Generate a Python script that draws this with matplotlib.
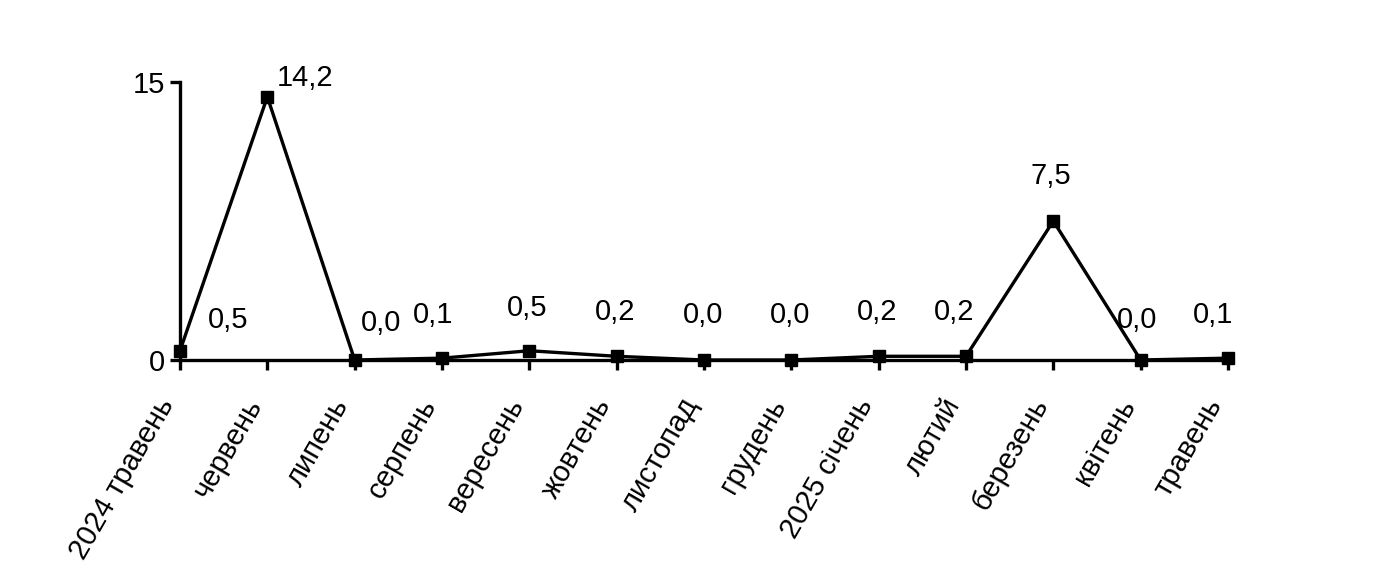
import matplotlib.pyplot as plt

# === data ===
months = ["2024 травень", "червень", "липень", "серпень", "вересень", "жовтень",
          "листопад", "грудень", "2025 січень", "лютий", "березень", "квітень", "травень"]
values = [0.5, 14.2, 0.0, 0.1, 0.5, 0.2, 0.0, 0.0, 0.2, 0.2, 7.5, 0.0, 0.1]
value_labels = ["0,5", "14,2", "0,0", "0,1", "0,5", "0,2", "0,0", "0,0", "0,2", "0,2", "7,5", "0,0", "0,1"]

# label offsets (pixels) relative to each point
label_dx = [48, 38, 26, -9, -2, -2, -1, -1, -2, -12, -3, -4, -15]
label_dy = [31, 19, 37, 43, 43, 44, 45, 45, 44, 44, 45, 40, 43]

plt.rcParams['font.family'] = ['Liberation Sans', 'DejaVu Sans']

fig = plt.figure(figsize=(14, 5.82), dpi=100)
ax = fig.add_axes([180 / 1400, 1 - 360 / 582, 1048 / 1400, 278 / 582])

x = list(range(len(values)))
ax.plot(x, values, color="black", linewidth=2.4, marker="s", markersize=9,
        markerfacecolor="black", markeredgecolor="black", clip_on=False, zorder=3)

for i, (v, lab) in enumerate(zip(values, value_labels)):
    ax.annotate(lab, (i, v), xytext=(label_dx[i], label_dy[i]), textcoords="offset pixels",
                ha="center", va="center", fontsize=21)

ax.set_xlim(0, len(values) - 1)
ax.set_ylim(0, 15)
ax.set_yticks([0, 15])
ax.set_yticklabels(["0", "15"], fontsize=21)
ax.set_xticks(x)
# va="bottom" with anchor rotation puts the label body up-left of the tick
ax.set_xticklabels(months, rotation=60, ha="right", va="bottom", rotation_mode="anchor",
                   fontsize=21, family=['Liberation Sans Narrow', 'Liberation Sans', 'DejaVu Sans'])

for side in ["top", "right"]:
    ax.spines[side].set_visible(False)
for side in ["left", "bottom"]:
    ax.spines[side].set_linewidth(2.4)

ax.tick_params(axis="both", direction="out", length=7, width=2.4, pad=4)
ax.tick_params(axis="x", pad=27)

fig.savefig("out.png", dpi=100)
